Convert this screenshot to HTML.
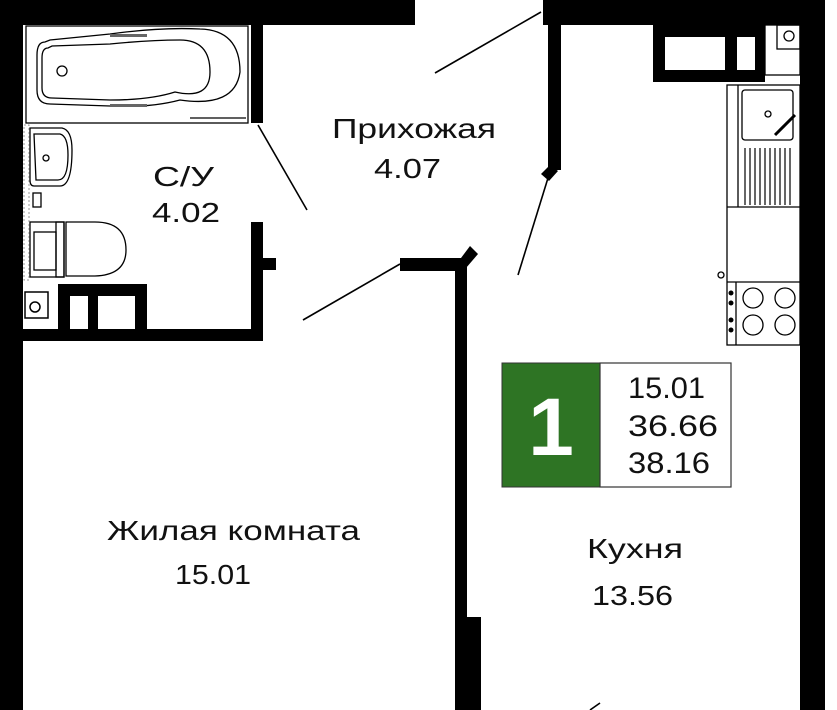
<!DOCTYPE html>
<html><head><meta charset="utf-8"><style>
html,body{margin:0;padding:0;background:#fff;}
svg{display:block;}
text{font-family:"Liberation Sans",sans-serif;fill:#111;}
</style></head><body>
<svg width="837" height="710" viewBox="0 0 837 710" xmlns="http://www.w3.org/2000/svg">
<g fill="#000">
<!-- outer walls -->
<rect x="0" y="0" width="23" height="710"/>
<rect x="0" y="0" width="415" height="25"/>
<rect x="543" y="0" width="282" height="25"/>
<rect x="800" y="0" width="25" height="710"/>
<!-- hall/kitchen wall -->
<rect x="548" y="20" width="13" height="150"/>
<polygon points="541,174 550,165 558,171 549,181"/>
<!-- bath wall -->
<rect x="251" y="25" width="12" height="98"/>
<rect x="251" y="222" width="12" height="119"/>
<rect x="263" y="258" width="13" height="12"/>
<rect x="23" y="329" width="240" height="12"/>
<!-- shaft -->
<rect x="58" y="284" width="89" height="45"/>
<!-- living/kitchen wall -->
<rect x="400" y="258" width="67" height="13"/>
<rect x="455" y="258" width="12" height="452"/>
<rect x="455" y="617" width="26" height="93"/>
<polygon points="458,262 470,246 478,254 466,268"/>
</g>
<rect x="70" y="296" width="18" height="33" fill="#fff"/>
<rect x="98" y="296" width="37" height="33" fill="#fff"/>
<rect x="25" y="292" width="23" height="26" fill="#fff" stroke="#000" stroke-width="1.5"/>
<circle cx="35" cy="307" r="5" fill="none" stroke="#000" stroke-width="1.5"/>
<!-- door swings -->
<g stroke="#000" stroke-width="1.6" fill="none">
<line x1="435" y1="73" x2="541" y2="12"/>
<line x1="548" y1="178" x2="518" y2="275"/>
<line x1="258" y1="125" x2="307" y2="210"/>
<line x1="303" y1="320" x2="400" y2="264"/>
<line x1="590" y1="710" x2="600" y2="703"/>
</g>
<!-- bath -->
<g stroke="#000" stroke-width="1.3" fill="none">
<rect x="26" y="26" width="222" height="97"/>
<path d="M45,42 Q37,42 37,55 L37,90 Q37,104 50,104 L110,106 Q150,108 180,100 Q235,108 240,72 Q240,30 200,29 Q160,27 110,34 L50,40 Z"/>
<path d="M48,48 Q42,48 42,58 L42,88 Q42,98 52,98 L110,100 Q150,100 175,92 Q210,100 210,72 Q210,40 180,40 Q150,40 110,44 L52,46 Z"/>
<circle cx="62" cy="71" r="5"/>
<line x1="190" y1="118" x2="246" y2="118"/>
</g>
<rect x="110" y="34" width="37" height="3" fill="#666"/>
<rect x="110" y="104" width="37" height="3" fill="#666"/>
<!-- sink -->
<g stroke="#000" stroke-width="1.3" fill="none">
<path d="M30,128 L62,128 Q72,130 72,150 Q72,186 60,186 L34,186 Q30,186 30,180 Z"/>
<path d="M34,134 L60,134 Q68,136 68,155 Q68,180 58,180 L36,180 Z"/>
<circle cx="46" cy="158" r="3"/>
<rect x="33" y="193" width="8" height="14"/>
<!-- toilet -->
<rect x="30" y="222" width="34" height="55"/>
<rect x="34" y="232" width="22" height="38"/>
<rect x="56" y="222" width="8" height="55"/>
<path d="M66,222 L95,222 Q126,222 126,250 Q126,275 95,276 L66,276 Z"/>
</g>
<rect x="24" y="125" width="5" height="155" fill="#fff" stroke="#999" stroke-width="1" stroke-dasharray="2,2"/>
<!-- kitchen top cabinet -->
<rect x="653" y="25" width="112" height="57" fill="#000"/>
<rect x="665" y="37" width="60" height="33" fill="#fff"/>
<rect x="737" y="37" width="18" height="33" fill="#fff"/>
<g stroke="#000" stroke-width="1.3" fill="none">
<rect x="765" y="25" width="35" height="50"/>
<rect x="777" y="25" width="23" height="24"/>
<circle cx="789" cy="36" r="5"/>
<!-- counter -->
<rect x="727" y="85" width="73" height="260"/>
<line x1="738" y1="85" x2="738" y2="207"/>
<rect x="742" y="90" width="51" height="50" rx="3"/>
<circle cx="768" cy="114" r="3"/>
<line x1="775" y1="135" x2="795" y2="115" stroke-width="3"/>
<line x1="727" y1="207" x2="800" y2="207"/>
<line x1="727" y1="282" x2="800" y2="282"/>
<line x1="736" y1="282" x2="736" y2="345"/>
<circle cx="721" cy="275" r="3"/>
<circle cx="753" cy="298" r="10"/><circle cx="785" cy="298" r="10"/>
<circle cx="753" cy="325" r="10"/><circle cx="785" cy="325" r="10"/>
</g>
<g stroke="#000" stroke-width="1.2">
<line x1="745" y1="148" x2="745" y2="205"/><line x1="750" y1="148" x2="750" y2="205"/>
<line x1="755" y1="148" x2="755" y2="205"/><line x1="760" y1="148" x2="760" y2="205"/>
<line x1="765" y1="148" x2="765" y2="205"/><line x1="770" y1="148" x2="770" y2="205"/>
<line x1="775" y1="148" x2="775" y2="205"/><line x1="780" y1="148" x2="780" y2="205"/>
<line x1="785" y1="148" x2="785" y2="205"/><line x1="790" y1="148" x2="790" y2="205"/>
</g>
<g fill="#000"><circle cx="731" cy="293" r="2.5"/><circle cx="731" cy="303" r="2.5"/><circle cx="731" cy="320" r="2.5"/><circle cx="731" cy="330" r="2.5"/></g>
<!-- info box -->
<rect x="502" y="363" width="98" height="124" fill="#2e7424"/>
<rect x="600" y="363" width="131" height="124" fill="#fff" stroke="#333" stroke-width="1.2"/>
<rect x="502" y="363" width="98" height="124" fill="none" stroke="#333" stroke-width="1"/>
<text x="551" y="455" text-anchor="middle" font-size="82" font-weight="bold" style="fill:#fff">1</text>
<text x="628" y="398" font-size="30" textLength="77" lengthAdjust="spacingAndGlyphs">15.01</text>
<text x="628" y="436" font-size="30" textLength="90" lengthAdjust="spacingAndGlyphs">36.66</text>
<text x="628" y="473" font-size="30" textLength="82" lengthAdjust="spacingAndGlyphs">38.16</text>
<!-- labels -->
<text x="332" y="138" font-size="28" textLength="164" lengthAdjust="spacingAndGlyphs">Прихожая</text>
<text x="374" y="178" font-size="28" textLength="67" lengthAdjust="spacingAndGlyphs">4.07</text>
<text x="153" y="186" font-size="28" textLength="61" lengthAdjust="spacingAndGlyphs">С/У</text>
<text x="152" y="222" font-size="28" textLength="68" lengthAdjust="spacingAndGlyphs">4.02</text>
<text x="107" y="540" font-size="28" textLength="253" lengthAdjust="spacingAndGlyphs">Жилая комната</text>
<text x="175" y="584" font-size="28" textLength="76" lengthAdjust="spacingAndGlyphs">15.01</text>
<text x="587" y="558" font-size="28" textLength="96" lengthAdjust="spacingAndGlyphs">Кухня</text>
<text x="592" y="605" font-size="28" textLength="81" lengthAdjust="spacingAndGlyphs">13.56</text>
</svg>
</body></html>
